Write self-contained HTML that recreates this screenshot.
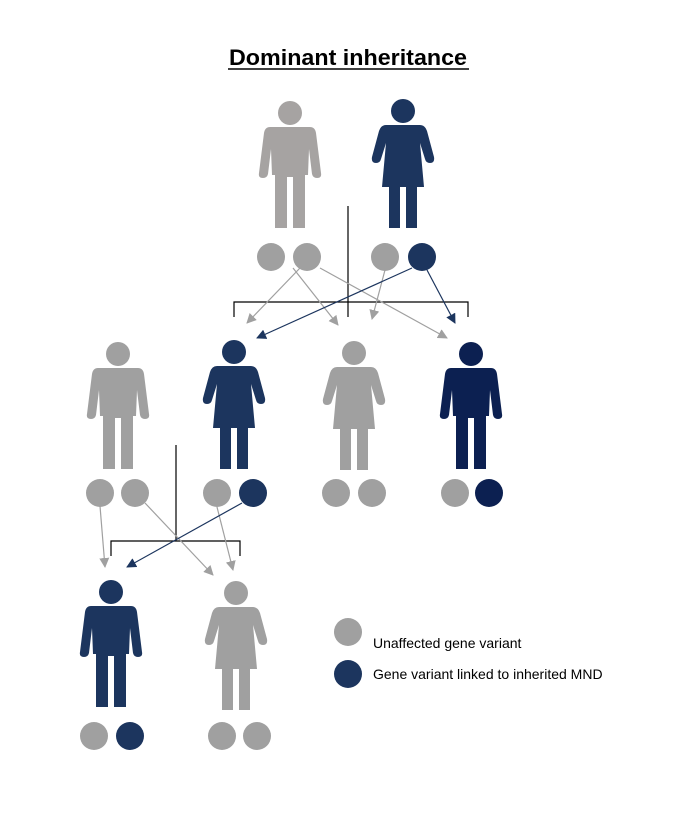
<!DOCTYPE html>
<html><head><meta charset="utf-8"><style>
html,body{margin:0;padding:0;background:#fff}
svg{display:block}
</style></head><body>
<svg width="691" height="825" viewBox="0 0 691 825" xmlns="http://www.w3.org/2000/svg">
<defs>
<g id="man">
<circle cx="0" cy="0" r="12"/>
<path d="M-20,14 Q-25,14 -26,20 L-31,60 Q-32,65 -27,65 Q-23,65 -22,61 L-19,36 L-18,62 L-15,62 L-15,115 L-3,115 L-3,64 L3,64 L3,115 L15,115 L15,62 L18,62 L19,36 L22,61 Q23,65 27,65 Q32,65 31,60 L26,20 Q25,14 20,14 Z"/>
</g>
<g id="woman">
<circle cx="0" cy="0" r="12"/>
<path d="M-17,14 Q-22,14 -24,20 L-31,46 Q-32,52 -27,52 Q-23,52 -22,48 L-17,32 L-21,76 L-14,76 L-14,117 L-3,117 L-3,76 L3,76 L3,117 L14,117 L14,76 L21,76 L17,32 L22,48 Q23,52 27,52 Q32,52 31,46 L24,20 Q22,14 17,14 Z"/>
</g>
<marker id="ag" markerWidth="10" markerHeight="10" refX="9" refY="5" orient="auto" markerUnits="userSpaceOnUse"><path d="M0,0 L10,5 L0,10 Z" fill="#a0a0a0"/></marker>
<marker id="an" markerWidth="10" markerHeight="10" refX="9" refY="5" orient="auto" markerUnits="userSpaceOnUse"><path d="M0,0 L10,5 L0,10 Z" fill="#1c355e"/></marker>
</defs>

<text x="348" y="65" text-anchor="middle" font-family="Liberation Sans, sans-serif" font-weight="bold" font-size="22" fill="#000" textLength="238" lengthAdjust="spacingAndGlyphs">Dominant inheritance</text>
<line x1="228" y1="69" x2="469" y2="69" stroke="#000" stroke-width="1.5"/>

<!-- Gen1 -->
<use href="#man" x="290" y="113" fill="#a6a3a2"/>
<use href="#woman" x="403" y="111" fill="#1c355e"/>
<circle cx="271" cy="257" r="14" fill="#a0a0a0"/>
<circle cx="307" cy="257" r="14" fill="#a0a0a0"/>
<circle cx="385" cy="257" r="14" fill="#a0a0a0"/>
<circle cx="422" cy="257" r="14" fill="#1c355e"/>

<g stroke="#000" stroke-width="1.2" fill="none">
<line x1="348" y1="206" x2="348" y2="317"/>
<polyline points="234,317 234,302 468,302 468,317"/>
</g>
<g stroke="#a0a0a0" stroke-width="1.2" marker-end="url(#ag)">
<line x1="293" y1="268" x2="338" y2="325"/>
<line x1="300" y1="268" x2="247" y2="323"/>
<line x1="320" y1="268" x2="447" y2="338"/>
<line x1="385" y1="270" x2="372" y2="319"/>
</g>
<g stroke="#1c355e" stroke-width="1.2" marker-end="url(#an)">
<line x1="412" y1="268" x2="257" y2="338"/>
<line x1="427" y1="270" x2="455" y2="323"/>
</g>

<!-- Gen2 -->
<use href="#man" x="118" y="354" fill="#a0a0a0"/>
<use href="#woman" x="234" y="352" fill="#1c355e"/>
<use href="#woman" x="354" y="353" fill="#a0a0a0"/>
<use href="#man" x="471" y="354" fill="#0c2051"/>
<circle cx="100" cy="493" r="14" fill="#a0a0a0"/>
<circle cx="135" cy="493" r="14" fill="#a0a0a0"/>
<circle cx="217" cy="493" r="14" fill="#a0a0a0"/>
<circle cx="253" cy="493" r="14" fill="#1c355e"/>
<circle cx="336" cy="493" r="14" fill="#a0a0a0"/>
<circle cx="372" cy="493" r="14" fill="#a0a0a0"/>
<circle cx="455" cy="493" r="14" fill="#a0a0a0"/>
<circle cx="489" cy="493" r="14" fill="#0c2051"/>

<g stroke="#000" stroke-width="1.2" fill="none">
<line x1="176" y1="445" x2="176" y2="541"/>
<polyline points="111,556 111,541 240,541 240,556"/>
</g>
<g stroke="#a0a0a0" stroke-width="1.2" marker-end="url(#ag)">
<line x1="100" y1="506" x2="105" y2="567"/>
<line x1="145" y1="503" x2="213" y2="575"/>
<line x1="217" y1="507" x2="233" y2="570"/>
</g>
<line x1="242" y1="503" x2="127" y2="567" stroke="#1c355e" stroke-width="1.2" marker-end="url(#an)"/>

<!-- Gen3 -->
<use href="#man" x="111" y="592" fill="#1c355e"/>
<use href="#woman" x="236" y="593" fill="#a0a0a0"/>
<circle cx="94" cy="736" r="14" fill="#a0a0a0"/>
<circle cx="130" cy="736" r="14" fill="#1c355e"/>
<circle cx="222" cy="736" r="14" fill="#a0a0a0"/>
<circle cx="257" cy="736" r="14" fill="#a0a0a0"/>

<!-- Legend -->
<circle cx="348" cy="632" r="14" fill="#a0a0a0"/>
<circle cx="348" cy="674" r="14" fill="#1c355e"/>
<g font-family="Liberation Sans, sans-serif" font-size="14" fill="#000">
<text x="373" y="648">Unaffected gene variant</text>
<text x="373" y="679">Gene variant linked to inherited MND</text>
</g>
</svg>
</body></html>
